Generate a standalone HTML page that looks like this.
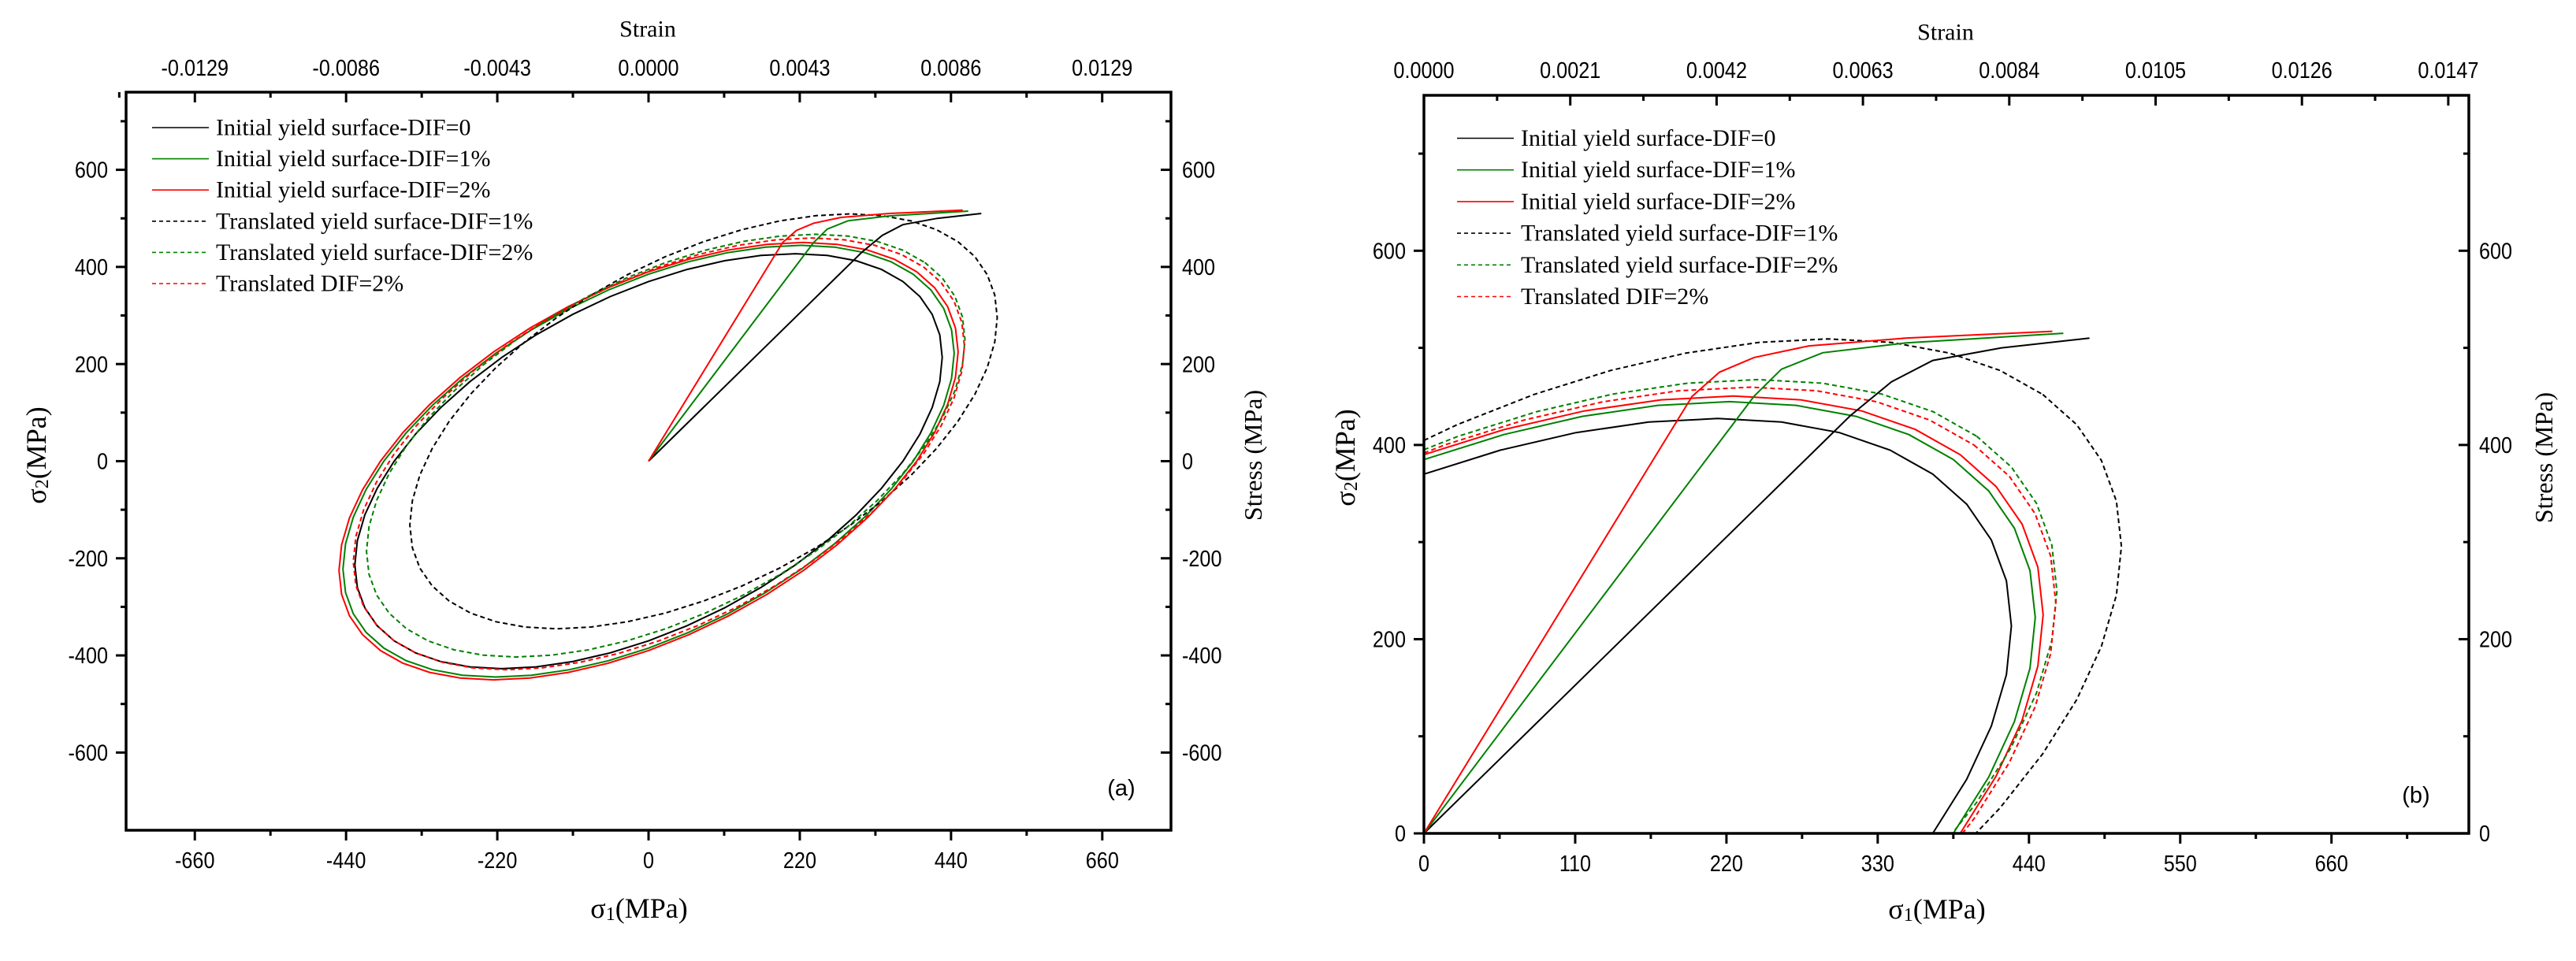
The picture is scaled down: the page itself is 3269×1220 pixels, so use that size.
<!DOCTYPE html>
<html><head><meta charset="utf-8">
<style>
html,body{margin:0;padding:0;background:#fff;overflow:hidden;width:3269px;height:1220px;}
svg{display:block;}
.t{font-family:"Liberation Sans",sans-serif;font-size:29px;fill:#000;}
.s{font-family:"Liberation Serif",serif;fill:#000;}
</style></head>
<body>
<svg id="c" xmlns="http://www.w3.org/2000/svg" width="3269" height="1220" viewBox="0 0 3269 1220"></svg>
<script>
var svg=document.getElementById('c');var NS='http://www.w3.org/2000/svg';
function el(n,a,p,txt){var e=document.createElementNS(NS,n);for(var k in a)e.setAttribute(k,a[k]);if(txt!==undefined)e.textContent=txt;(p||svg).appendChild(e);return e;}
function T(x,y,s,anchor,cls,fs){var a={class:cls||'t','text-anchor':anchor||'middle','dominant-baseline':'central'};
 if(fs)a['font-size']=fs;
 if((cls||'t')=='t')a.transform='translate('+x+','+y+') scale(0.87,1)';
 else a.transform='translate('+x+','+y+')';
 a.x=0;a.y=0;return el('text',a,null,s);}
function clipSeg(x0,y0,x1,y1,xmin,xmax,ymin,ymax){
 var t0=0,t1=1,dx=x1-x0,dy=y1-y0;
 var p=[-dx,dx,-dy,dy],q=[x0-xmin,xmax-x0,y0-ymin,ymax-y0];
 for(var i=0;i<4;i++){if(p[i]==0){if(q[i]<0)return null;}else{var r=q[i]/p[i];if(p[i]<0){if(r>t1)return null;if(r>t0)t0=r;}else{if(r<t0)return null;if(r<t1)t1=r;}}}
 return [x0+t0*dx,y0+t0*dy,x0+t1*dx,y0+t1*dy];}
function panel(P){
 var X=function(v){return P.x0+(v-P.xmin)*P.sx;},Y=function(v){return P.y1-(v-P.ymin)*P.sy;};
 var L=P.x0,R=P.x0+1326,Tp=P.y1-937,B=P.y1;
 function poly(pts,col,dash){var d='',lx=null,ly=null;
  for(var i=1;i<pts.length;i++){var a=clipSeg(X(pts[i-1][0]),Y(pts[i-1][1]),X(pts[i][0]),Y(pts[i][1]),L,R,Tp,B);
   if(!a){lx=null;continue;}
   if(lx===null||Math.abs(lx-a[0])>0.01||Math.abs(ly-a[1])>0.01)d+='M'+a[0].toFixed(1)+','+a[1].toFixed(1);
   d+='L'+a[2].toFixed(1)+','+a[3].toFixed(1);lx=a[2];ly=a[3];}
  var at={d:d,fill:'none',stroke:col,'stroke-width':2};if(dash)at['stroke-dasharray']='6,4';el('path',at);}
 function ell(c1,c2,Yv){var pts=[];var n=48;for(var i=0;i<=n;i++){var t=2*Math.PI*i/n;pts.push([c1+Yv*Math.cos(t)+Yv/Math.sqrt(3)*Math.sin(t),c2+Yv*Math.cos(t)-Yv/Math.sqrt(3)*Math.sin(t)]);}return pts;}
 poly(ell(0,0,370),'#000');
 poly(ell(0,0,385),'#008000');
 poly(ell(0,0,390),'#ff0000');
 poly(ell(80,82,370),'#000',1);
 poly(ell(25,32,377),'#008000',1);
 poly(ell(15,15,385),'#ff0000',1);
 poly([[0,0],[310,430],[340,465],[370,487],[420,500],[484,510]],'#000');
 poly([[0,0],[240,450],[260,478],[290,495],[350,505],[465,515]],'#008000');
 poly([[0,0],[195,450],[215,475],[240,490],[280,502],[350,510],[457,517]],'#ff0000');
 el('rect',{x:L,y:Tp,width:1326,height:937,fill:'none',stroke:'#000','stroke-width':3.5});
 P.xt.forEach(function(v,i){var x=X(v);var maj=(i%2==0);var l=maj?13:7;
  el('line',{x1:x,y1:B,x2:x,y2:B+l,style:'stroke:#000;stroke-width:3'});
  if(maj)T(x,P.by,String(v));});
 P.yt.forEach(function(v,i){var y=Y(v);var maj=(i%2==0);var l=maj?13:7;
  el('line',{x1:L,y1:y,x2:L-l,y2:y,style:'stroke:#000;stroke-width:3'});
  el('line',{x1:R,y1:y,x2:R-l,y2:y,style:'stroke:#000;stroke-width:3'});
  if(maj){T(P.ly,y,String(v),'end');T(P.ry,y,String(v),'start');}});
 P.top.forEach(function(s,i){var x=P.tx0+i*P.tstep;
  el('line',{x1:x,y1:Tp,x2:x,y2:Tp+13,style:'stroke:#000;stroke-width:3'});
  if(i<P.top.length-1){var xm=x+P.tstep/2;if(xm<R)el('line',{x1:xm,y1:Tp,x2:xm,y2:Tp+7,style:'stroke:#000;stroke-width:3'});}
  T(x,P.ty,s);});
 if(P.premid){var xm=P.tx0-P.tstep/2;el('line',{x1:xm,y1:Tp,x2:xm,y2:Tp+7,style:'stroke:#000;stroke-width:3'});}
 T((L+R)/2-1,P.sty,'Strain','middle','s',30);
 var xt=el('text',{class:'s','font-size':36,x:(L+R)/2-12,y:P.xty,'text-anchor':'middle','dominant-baseline':'central'});
 xt.appendChild(document.createTextNode('σ'));el('tspan',{'font-size':24,dy:8},xt,'1');el('tspan',{dy:-8},xt,'(MPa)');
 var yt=el('text',{class:'s','font-size':36,transform:'translate('+P.lty+','+P.lcy+') rotate(-90)','text-anchor':'middle','dominant-baseline':'central'});
 yt.appendChild(document.createTextNode('σ'));el('tspan',{'font-size':24,dy:8},yt,'2');el('tspan',{dy:-8},yt,'(MPa)');
 el('text',{class:'s','font-size':32,transform:'translate('+P.rty+','+P.lcy+') rotate(-90)','text-anchor':'middle','dominant-baseline':'central'},null,'Stress (MPa)');
 el('text',{class:'t','font-size':34,x:P.lab[0],y:P.lab[1],'text-anchor':'middle','dominant-baseline':'central'},null,P.lab[2]);
 var items=[['Initial yield surface-DIF=0','#000',0],['Initial yield surface-DIF=1%','#008000',0],['Initial yield surface-DIF=2%','#ff0000',0],
  ['Translated yield surface-DIF=1%','#000',1],['Translated yield surface-DIF=2%','#008000',1],['Translated DIF=2%','#ff0000',1]];
 items.forEach(function(it,i){var y=P.leg[1]+i*P.leg[2];
  var a={x1:P.leg[0],y1:y,x2:P.leg[0]+72,y2:y,stroke:it[1],'stroke-width':1.6};if(it[2])a['stroke-dasharray']='5,4';el('line',a);
  el('text',{class:'s','font-size':30,x:P.leg[0]+81,y:y,'dominant-baseline':'central'},null,it[0]);});
}
var xa=[],ya=[];for(var v=-660;v<=660;v+=110)xa.push(v);for(var v=-600;v<=700;v+=100)ya.push(v);
panel({x0:160,xmin:-760,sx:0.8724,y1:1054,ymin:-760,sy:0.6165,
 xt:xa,yt:ya,by:1092,ly:137,ry:1500,
 top:['-0.0129','-0.0086','-0.0043','0.0000','0.0043','0.0086','0.0129'],tx0:823-3*191.9,tstep:191.9,premid:1,ty:86,sty:37,
 xty:1153,lty:46,lcy:578,rty:1590,lab:[1423,1001,'(a)'],leg:[193,162,39.6]});
var xb=[],yb=[];for(var v=0;v<=715;v+=55)xb.push(v);for(var v=0;v<=700;v+=100)yb.push(v);
panel({x0:1807,xmin:0,sx:1.745,y1:1058,ymin:0,sy:1.2328,
 xt:xb,yt:yb,by:1096,ly:1784,ry:3146,
 top:['0.0000','0.0021','0.0042','0.0063','0.0084','0.0105','0.0126','0.0147'],tx0:1807,tstep:185.7,ty:89,sty:41,
 xty:1154,lty:1707,lcy:581,rty:3228,lab:[3066,1010,'(b)'],leg:[1849,175.5,40.2]});
</script>
</body></html>
